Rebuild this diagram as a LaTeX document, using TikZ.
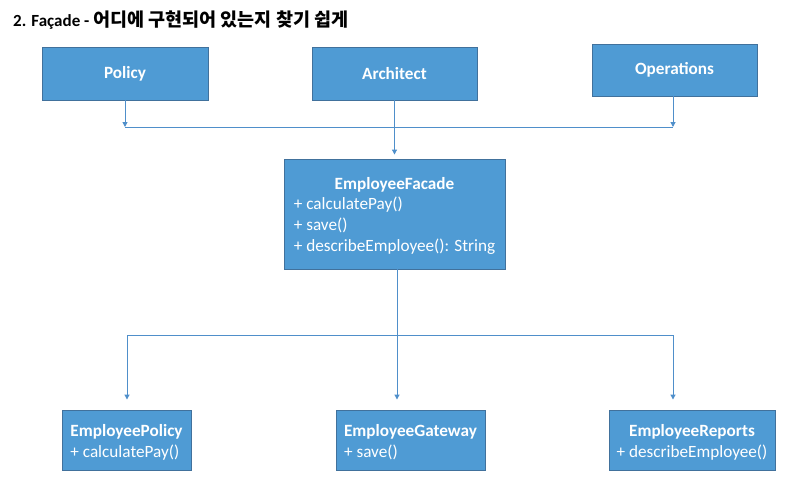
\documentclass[tikz,border=0pt]{standalone}
\usepackage{fontspec}
\setmainfont{Carlito}
\newfontfamily\krfont{Noto Sans CJK KR}
\usetikzlibrary{arrows.meta,calc}
\definecolor{boxfill}{HTML}{4F9BD4}
\definecolor{boxline}{HTML}{41719C}
\definecolor{connc}{HTML}{4F8FCA}
\newcommand{\clsbox}[2]{\begin{tabular}{@{}l@{}}\multicolumn{1}{@{}c@{}}{\bfseries #1}\\#2\end{tabular}}
\begin{document}
\begin{tikzpicture}[x=1pt,y=-1pt,
  cls/.style={draw=boxline, fill=boxfill, line width=0.9pt, text=white, inner sep=0pt,
    font=\fontsize{17.2}{20.6}\selectfont},
  clstext/.style={text=white, inner sep=0pt, font=\fontsize{17.2}{20.6}\selectfont},
  conline/.style={draw=connc, line width=1pt},
  arr/.style={conline, -{Triangle[length=5pt,width=5pt]}}]
\useasboundingbox (0,0) rectangle (788,483);
\node[anchor=base west, inner sep=0pt, font=\fontsize{17}{20}\selectfont] (title) at (13,26)
  {\bfseries 2. Façade - {\krfont\fontsize{18.5}{20}\selectfont\bfseries 어디에 구현되어 있는지 찾기 쉽게}};

\node[cls, minimum width=166, minimum height=53] (pol) at (125,73.5) {\bfseries Policy};
\node[cls, minimum width=165, minimum height=53] (arch) at (394.5,73.5) {\bfseries Architect};
\node[cls, minimum width=165, minimum height=52] (ops) at (674.5,70) {\bfseries Operations};

\node[cls, minimum width=221, minimum height=110,
  label={[clstext, yshift=-2pt]center:{\clsbox{EmployeeFacade}{+ calculatePay()\\+ save()\\+ describeEmployee(): String}}}]
  (fac) at (394.5,214) {};

\node[cls, minimum width=129, minimum height=60,
  label={[clstext, yshift=-3pt]center:{\clsbox{EmployeePolicy}{+ calculatePay()}}}]
  (epol) at (126.5,440) {};
\node[cls, minimum width=149, minimum height=60,
  label={[clstext, yshift=-3pt]center:{\clsbox{EmployeeGateway}{+ save()}}}]
  (egw) at (410.5,440) {};
\node[cls, minimum width=166, minimum height=60,
  label={[clstext, yshift=-3pt]center:{\clsbox{EmployeeReports}{+ describeEmployee()}}}]
  (erep) at (692,440) {};

% top bus
\coordinate (tL) at (125,127);
\coordinate (tR) at (673,127);
\draw[conline] (tL) -- (tR);
\draw[arr] (pol.south) -- (pol.south |- tL);
\draw[arr] (ops.south -| tR) -- (tR);
\draw[arr, shorten >=4pt] (arch.south) -- (arch.south |- fac.north);

% bottom bus
\coordinate (bM) at (397,335);
\coordinate (bL) at (127,335);
\coordinate (bR) at (673,335);
\draw[conline] (fac.south -| bM) -- (bM);
\draw[conline] (bL) -- (bR);
\draw[arr, shorten >=10pt] (bL) -- (bL |- epol.north);
\draw[arr, shorten >=10pt] (bM) -- (bM |- egw.north);
\draw[arr, shorten >=10pt] (bR) -- (bR |- erep.north);
\end{tikzpicture}
\end{document}
